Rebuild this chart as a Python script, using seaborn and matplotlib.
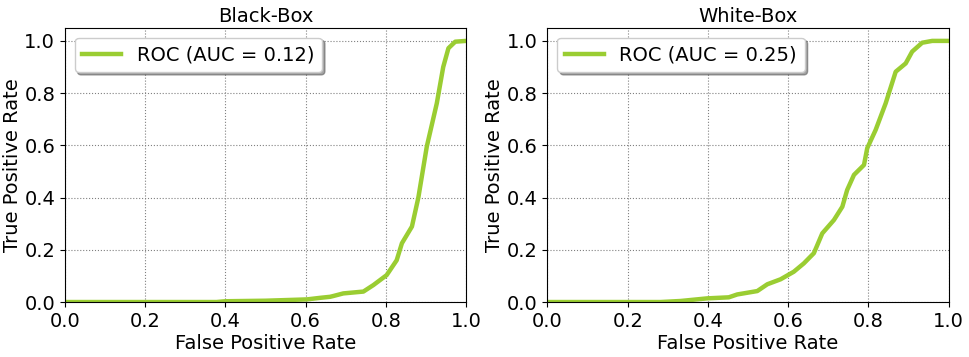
import numpy as np
import pandas as pd
import matplotlib
matplotlib.use("Agg")
import matplotlib.pyplot as plt
import seaborn as sns

# ROC curves
bb_fpr = [0.0, 0.378, 0.40, 0.50, 0.603, 0.636, 0.661, 0.669, 0.694, 0.744, 0.769,
          0.802, 0.827, 0.84, 0.865, 0.881, 0.902, 0.927, 0.943, 0.956, 0.973, 1.0]
bb_tpr = [0.0, 0.0, 0.003, 0.005, 0.01, 0.016, 0.02, 0.023, 0.033, 0.04, 0.065,
          0.103, 0.16, 0.225, 0.289, 0.40, 0.595, 0.761, 0.90, 0.972, 0.997, 1.0]

wb_fpr = [0.0, 0.282, 0.332, 0.398, 0.452, 0.473, 0.523, 0.548, 0.581, 0.614, 0.639,
          0.664, 0.685, 0.714, 0.735, 0.747, 0.764, 0.789, 0.797, 0.818, 0.843, 0.868,
          0.893, 0.909, 0.934, 0.959, 1.0]
wb_tpr = [0.0, 0.0, 0.004, 0.014, 0.018, 0.029, 0.042, 0.068, 0.087, 0.116, 0.148,
          0.187, 0.263, 0.314, 0.365, 0.429, 0.487, 0.525, 0.589, 0.659, 0.761, 0.882,
          0.914, 0.959, 0.993, 1.0, 1.0]

titles = ["Black-Box", "White-Box"]
aucs = [0.12, 0.25]

plt.rcParams.update({'font.family': 'DejaVu Sans', 'font.size': 14})

fig = plt.figure(figsize=(9.69, 3.57), dpi=100)
axes = [fig.add_axes([0.067, 0.154, 0.414, 0.768]),
        fig.add_axes([0.565, 0.154, 0.414, 0.768])]

for ax, fpr, tpr, title, auc in zip(axes, [bb_fpr, wb_fpr], [bb_tpr, wb_tpr], titles, aucs):
    df = pd.DataFrame({"fpr": fpr, "tpr": tpr})
    sns.lineplot(data=df, x="fpr", y="tpr", ax=ax, color="yellowgreen", linewidth=3.2,
                 label=f"ROC (AUC = {auc:.2f})", sort=False, estimator=None)
    ax.set_xlim(0, 1.0)
    ax.set_ylim(0, 1.05)
    ax.set_xticks(np.arange(0, 1.01, 0.2))
    ax.set_yticks(np.arange(0, 1.01, 0.2))
    ax.grid(True, linestyle=':', color='gray', linewidth=0.8)
    ax.set_xlabel("False Positive Rate", fontsize=14, labelpad=2)
    ax.set_ylabel("True Positive Rate", fontsize=14, labelpad=2)
    ax.set_title(title, fontsize=14, pad=4)
    ax.tick_params(labelsize=14)
    ax.legend(loc="upper left", fontsize=14, shadow=True, fancybox=True)

fig.savefig("out.png", dpi=100)
